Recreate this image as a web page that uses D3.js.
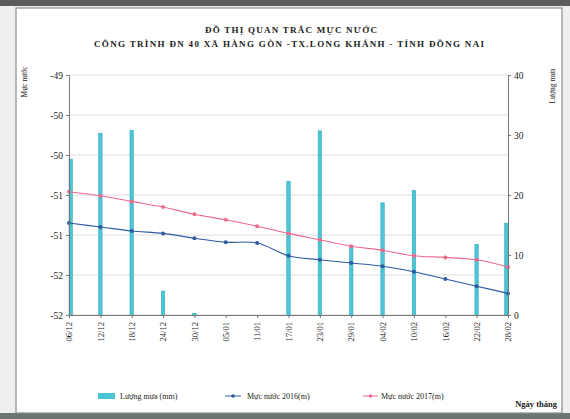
<!DOCTYPE html>
<html><head><meta charset="utf-8">
<script src="https://cdn.jsdelivr.net/npm/d3@7"></script>
<style>
body{margin:0;background:#fff}
svg{display:block}
text{font-family:"Liberation Serif","DejaVu Serif",serif;fill:#222}
</style>
</head><body>
<svg id="c" width="570" height="419"></svg>
<script>
const categories = ["06/12","12/12","18/12","24/12","30/12","05/01","11/01","17/01","23/01","29/01","04/02","10/02","16/02","22/02","28/02"];
const rain = [26, 30.3, 30.8, 4, 0.3, 0, 0, 22.3, 30.7, 11.6, 18.7, 20.8, 0, 11.8, 15.3];
const level2016 = [-50.85,-50.90,-50.95,-50.98,-51.04,-51.09,-51.10,-51.26,-51.31,-51.35,-51.39,-51.46,-51.55,-51.64,-51.73];
const level2017 = [-50.46,-50.51,-50.58,-50.65,-50.74,-50.81,-50.89,-50.98,-51.06,-51.14,-51.19,-51.26,-51.28,-51.31,-51.40];
const levelTicks = [-49,-49.5,-50,-50.5,-51,-51.5,-52];
const levelTickLabels = ["-49","-50","-50","-51","-51","-52","-52"];
const rainTicks = [0,10,20,30,40];
const titles = ["ĐỒ THỊ QUAN TRẮC MỰC NƯỚC","CÔNG TRÌNH ĐN 40 XÃ HÀNG GÒN -TX.LONG KHÁNH - TỈNH ĐỒNG NAI"];
const legendLabels = ["Lượng mưa (mm)","Mực nước 2016(m)","Mực nước 2017(m)"];

const W = 570, H = 419;
const M = {left:69, right:508, top:75, bottom:315};
const svg = d3.select("#c");

// photo surroundings
svg.append("rect").attr("width",W).attr("height",H).attr("fill","#eef0f0");
svg.append("rect").attr("x",0).attr("y",0).attr("width",W).attr("height",6).attr("fill","#5a5c5e");
svg.append("rect").attr("x",0).attr("y",413).attr("width",W).attr("height",6).attr("fill","#6d7572");
svg.append("rect").attr("x",16).attr("y",8).attr("width",546).attr("height",405)
  .attr("fill","#fff").attr("stroke","#8a8a8a").attr("stroke-width",1.2);

const colBar = "#4cc6d4", colBarEdge = "#2aa6b8", col16 = "#2d5aa2", col17 = "#ec6a8c";

const x = d3.scalePoint().domain(categories).range([M.left, M.right]);
const yL = d3.scaleLinear().domain([-52,-49]).range([M.bottom, M.top]);
const yR = d3.scaleLinear().domain([0,40]).range([M.bottom, M.top]);

// gridlines
svg.append("g").selectAll("line").data(levelTicks).join("line")
  .attr("x1",M.left).attr("x2",M.right)
  .attr("y1",d=>yL(d)).attr("y2",d=>yL(d))
  .attr("stroke","#d4d4d4").attr("stroke-width",0.8);

// titles
svg.append("text").attr("x",291).attr("y",33).attr("text-anchor","middle")
  .attr("font-size",9).attr("font-weight","bold").attr("fill","#333")
  .attr("textLength",172).attr("lengthAdjust","spacing").text(titles[0]);
svg.append("text").attr("x",289).attr("y",47).attr("text-anchor","middle")
  .attr("font-size",9).attr("font-weight","bold").attr("fill","#333")
  .attr("textLength",390).attr("lengthAdjust","spacing").text(titles[1]);

// bars
const bw = 3.5;
svg.append("g").selectAll("rect").data(rain).join("rect")
  .attr("x",(d,i)=>Math.min(Math.max(x(categories[i])-bw/2, M.left), M.right-bw))
  .attr("width",bw)
  .attr("y",d=>yR(d)).attr("height",d=>yR(0)-yR(d))
  .attr("fill",colBar).attr("stroke",colBarEdge).attr("stroke-width",0.5);

// lines
const curve = d3.curveCatmullRom.alpha(0.5);
function series(vals,col){
  const pts = vals.map((v,i)=>[x(categories[i]), yL(v)]);
  svg.append("path").attr("d", d3.line().curve(curve)(pts))
    .attr("fill","none").attr("stroke",col).attr("stroke-width",1.1);
  svg.append("g").selectAll("circle").data(pts).join("circle")
    .attr("cx",d=>d[0]).attr("cy",d=>d[1]).attr("r",2).attr("fill",col);
}
series(level2017, col17);
series(level2016, col16);

// axes
const axL = d3.axisLeft(yL).tickValues(levelTicks).tickFormat((d,i)=>levelTickLabels[i]).tickSize(3).tickSizeOuter(0);
const gL = svg.append("g").attr("transform",`translate(${M.left},0)`).call(axL);
const axR = d3.axisRight(yR).tickValues(rainTicks).tickSize(3).tickSizeOuter(0);
const gR = svg.append("g").attr("transform",`translate(${M.right},0)`).call(axR);
const axB = d3.axisBottom(x).tickSize(3).tickSizeOuter(0);
const gB = svg.append("g").attr("transform",`translate(0,${M.bottom})`).call(axB);
[gL,gR,gB].forEach(g=>{
  g.select(".domain").attr("stroke","#777");
  g.selectAll(".tick line").attr("stroke","#777");
  g.selectAll("text").attr("font-family","Liberation Serif, serif").attr("fill","#333");
});
gL.selectAll("text").attr("font-size",9.5);
gR.selectAll("text").attr("font-size",9.5);
gB.selectAll("text").attr("font-size",8.5)
  .attr("transform","rotate(-90)").attr("text-anchor","end")
  .attr("x",-7).attr("y",0).attr("dy","0.32em");

// axis titles
svg.append("text").attr("transform","translate(27,82) rotate(-90)").attr("text-anchor","middle")
  .attr("font-size",7.5).text("Mực nước");
svg.append("text").attr("transform","translate(555,86) rotate(-90)").attr("text-anchor","middle")
  .attr("font-size",7.5).text("Lượng mưa");

// legend
const lg = svg.append("g");
lg.append("rect").attr("x",98).attr("y",393).attr("width",17).attr("height",6).attr("fill",colBar);
lg.append("text").attr("x",120).attr("y",399).attr("font-size",8).text(legendLabels[0]);
lg.append("line").attr("x1",225).attr("x2",241).attr("y1",396).attr("y2",396).attr("stroke",col16).attr("stroke-width",1);
lg.append("circle").attr("cx",233).attr("cy",396).attr("r",1.8).attr("fill",col16);
lg.append("text").attr("x",247).attr("y",399).attr("font-size",8).text(legendLabels[1]);
lg.append("line").attr("x1",363).attr("x2",378).attr("y1",396).attr("y2",396).attr("stroke",col17).attr("stroke-width",1);
lg.append("circle").attr("cx",370.5).attr("cy",396).attr("r",1.8).attr("fill",col17);
lg.append("text").attr("x",381).attr("y",399).attr("font-size",8).text(legendLabels[2]);

svg.append("text").attr("x",557).attr("y",407).attr("text-anchor","end")
  .attr("font-size",8.5).attr("font-weight","bold").text("Ngày tháng");
</script>
</body></html>
